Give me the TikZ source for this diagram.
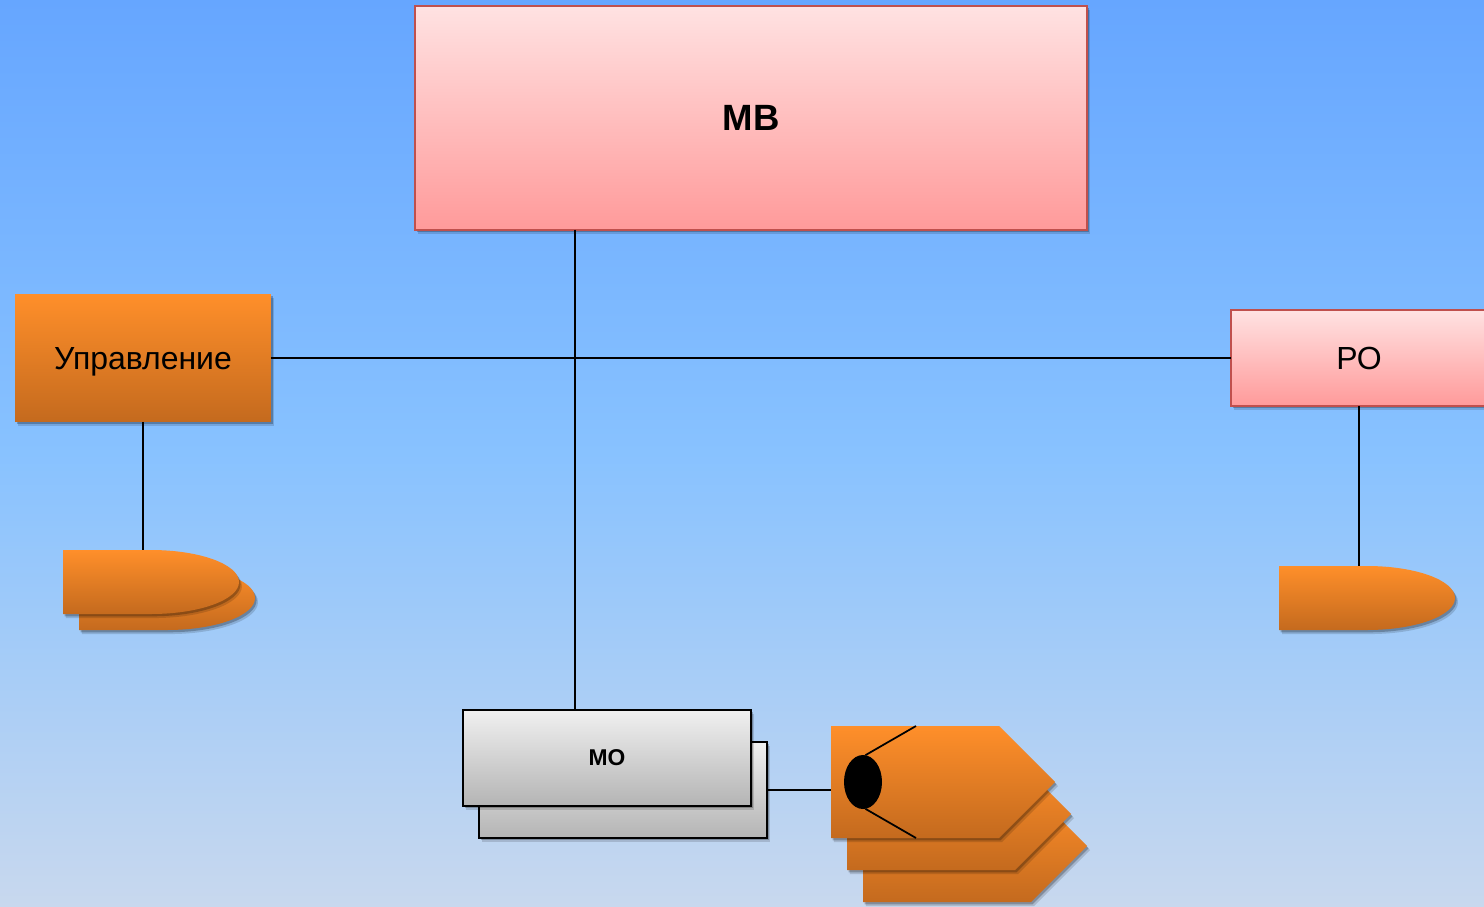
\documentclass[tikz,border=0pt]{standalone}
\usepackage{fontspec}
\setmainfont{Liberation Sans}
\usetikzlibrary{shapes.geometric,shadows}
\definecolor{skytop}{RGB}{102,166,255}
\definecolor{skymid}{RGB}{136,194,255}
\definecolor{skybot}{RGB}{200,216,238}
\definecolor{orangetop}{RGB}{255,143,42}
\definecolor{orangebot}{RGB}{196,106,30}
\definecolor{pinktop}{RGB}{255,226,226}
\definecolor{pinkbot}{RGB}{255,154,154}
\definecolor{pinkline}{RGB}{192,80,77}
\definecolor{graytop}{RGB}{240,240,240}
\definecolor{graybot}{RGB}{180,180,180}
\tikzset{
	softshadow/.style={
		drop shadow={shadow xshift=1.7pt,shadow yshift=-2.3pt,opacity=.14,fill=black},
		drop shadow={shadow xshift=.9pt,shadow yshift=-1.3pt,opacity=.24,fill=black}},
	orangefill/.style={top color=orangetop,bottom color=orangebot,softshadow},
	orangebox/.style={rectangle,orangefill,inner sep=0,outer sep=0,text depth=0pt},
	pinkbox/.style={rectangle,draw=pinkline,line width=.05cm,top color=pinktop,bottom color=pinkbot,softshadow,inner sep=0,outer sep=0,text depth=0pt},
	graybox/.style={rectangle,draw=black,line width=.04cm,top color=graytop,bottom color=graybot,softshadow,inner sep=0,outer sep=0,minimum width=5.76cm,minimum height=1.92cm,text depth=0pt},
	wire/.style={draw=black,line width=.04cm}
}
\begin{document}
\begin{tikzpicture}[x=.02cm,y=-.02cm]
	\clip (0,0) rectangle (1484,906);
	\shade[top color=skytop,bottom color=skybot,middle color=skymid] (0,0) rectangle (1484,906);
	\node[pinkbox,minimum width=13.44cm,minimum height=4.48cm,font=\fontsize{20.8}{24}\selectfont\bfseries] (mv) at (751,118) {МВ};
	\node[orangebox,minimum width=5.12cm,minimum height=2.56cm,font=\fontsize{18.2}{20}\selectfont] (upr) at (143,358) {Управление};
	\node[pinkbox,minimum width=5.12cm,minimum height=1.92cm,font=\fontsize{18.2}{20}\selectfont] (ro) at (1359,358) {РО};
	\node[graybox] (moback) at (623,790) {};
	\node[graybox,font=\fontsize{13}{15}\selectfont\bfseries] (mo) at (607,758) {МО};
	% storage shapes
	\foreach \x/\y in {79/566,63/550,1279/566}
		\path[orangefill] (\x,\y) -- ++(88,0) arc[start angle=-90,end angle=90,x radius=88,y radius=32] -- ++(-88,0) -- cycle;
	% sensors
	\foreach \x/\y in {863/790,847/758,831/726}
		\path[orangefill] (\x,\y) -- ++(168,0) -- ++(56,56) -- ++(-56,56) -- ++(-168,0) -- cycle;
	\coordinate (front) at (831,790);
	\node[ellipse,fill=black,inner sep=0,outer sep=0,minimum width=.76cm,minimum height=1.08cm] (eye) at (863,782) {};
	\coordinate (eyetop) at (916,726);
	\coordinate (eyebot) at (916,838);
	\coordinate (delayupr) at (143,550);
	\coordinate (delayro) at (1359,566);
	\coordinate (trunk) at (575,358);
	\draw[wire] (upr.east) -- (ro.west);
	\draw[wire] (mv.south -| trunk) -- (mo.north -| trunk);
	\draw[wire] (upr.south) -- (delayupr);
	\draw[wire] (ro.south) -- (delayro);
	\draw[wire] (moback.east) -- (front);
	\draw[draw=black,line width=.035cm] (eye.85) -- (eyetop);
	\draw[draw=black,line width=.035cm] (eye.-85) -- (eyebot);
\end{tikzpicture}
\end{document}
